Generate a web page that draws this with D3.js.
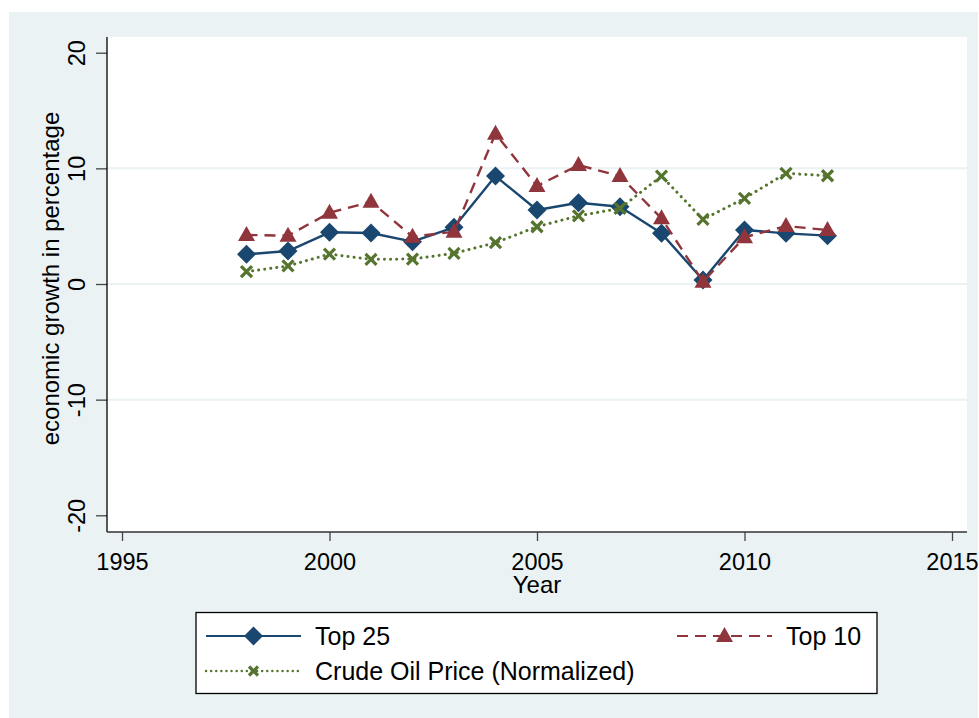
<!DOCTYPE html>
<html>
<head>
<meta charset="utf-8">
<script src="https://cdn.jsdelivr.net/npm/d3@7/dist/d3.min.js"></script>
<style>
  html, body { margin: 0; padding: 0; background: #ffffff; }
  svg { display: block; }
  text { font-family: "Liberation Sans", Arial, sans-serif; fill: #000; }
</style>
</head>
<body>
<svg id="chart" width="979" height="718"></svg>
<script>
// ---- Data ----
const years = [1998, 1999, 2000, 2001, 2002, 2003, 2004, 2005, 2006, 2007, 2008, 2009, 2010, 2011, 2012];
const top25 = [2.57, 2.85, 4.47, 4.41, 3.66, 4.90, 9.33, 6.40, 7.03, 6.68, 4.38, 0.35, 4.67, 4.38, 4.18];
const top10 = [4.24, 4.18, 6.16, 7.11, 4.09, 4.52, 13.0, 8.47, 10.28, 9.33, 5.68, 0.20, 4.04, 5.01, 4.67];
const oil   = [1.07, 1.56, 2.59, 2.13, 2.16, 2.65, 3.57, 4.95, 5.90, 6.54, 9.33, 5.59, 7.41, 9.57, 9.36];
const xTicks = [1995, 2000, 2005, 2010, 2015];
const yTicks = [-20, -10, 0, 10, 20];
const gridTicks = [-10, 0, 10];
const seriesNames = ["Top 25", "Top 10", "Crude Oil Price (Normalized)"];

const svg = d3.select("#chart");

// Outer (graph) background
svg.append("rect").attr("x", 9).attr("y", 12).attr("width", 969).attr("height", 706).attr("fill", "#eaf2f3");

const plot = {left: 107, right: 967, top: 37, bottom: 532};
svg.append("rect").attr("x", plot.left).attr("y", plot.top)
   .attr("width", plot.right - plot.left).attr("height", plot.bottom - plot.top).attr("fill", "#ffffff");

const x = d3.scaleLinear().domain([1995, 2015]).range([122, 952]);
const y = d3.scaleLinear().domain([-20, 20]).range([515.3, 52.7]);

// gridlines
svg.append("g").selectAll("line").data(gridTicks).join("line")
  .attr("x1", plot.left).attr("x2", plot.right)
  .attr("y1", d => y(d)).attr("y2", d => y(d))
  .attr("stroke", "#eaf2f3").attr("stroke-width", 2);

// Y axis
const yAxis = d3.axisLeft(y).tickValues(yTicks).tickSize(11).tickPadding(0).tickFormat(d => String(d));
const gy = svg.append("g").attr("transform", `translate(${plot.left},0)`).call(yAxis);
gy.select(".domain").remove();
gy.selectAll(".tick line").attr("stroke", "#444").attr("stroke-width", 1.3);
gy.selectAll(".tick text")
  .attr("x", 0)
  .attr("transform", "translate(-22,0) rotate(-90)")
  .attr("text-anchor", "middle")
  .attr("dy", "0")
  .style("font-size", "23.5px");
svg.append("line").attr("x1", plot.left).attr("x2", plot.left)
  .attr("y1", plot.top).attr("y2", plot.bottom).attr("stroke", "#000").attr("stroke-width", 1.3);

// X axis
const xAxis = d3.axisBottom(x).tickValues(xTicks).tickSize(9).tickPadding(0).tickFormat(d => String(d));
const gx = svg.append("g").attr("transform", `translate(0,${plot.bottom})`).call(xAxis);
gx.select(".domain").remove();
gx.selectAll(".tick line").attr("stroke", "#444").attr("stroke-width", 1.3);
gx.selectAll(".tick text").attr("y", 38).attr("dy", "0").style("font-size", "23.5px");
svg.append("line").attr("x1", plot.left).attr("x2", plot.right)
  .attr("y1", plot.bottom).attr("y2", plot.bottom).attr("stroke", "#333").attr("stroke-width", 1.3);
svg.selectAll("g").attr("font-family", null).attr("font-size", null);

// axis titles
svg.append("text").attr("x", x(2005)).attr("y", 593).attr("text-anchor", "middle")
  .style("font-size", "24px").text("Year");
svg.append("text").attr("transform", `translate(58.5,${(plot.top + plot.bottom) / 2 - 6}) rotate(-90)`)
  .attr("text-anchor", "middle").style("font-size", "24px").text("economic growth in percentage");

// markers
const diamond = (g, cx, cy) => g.append("path")
  .attr("d", `M${cx},${cy - 9.5}L${cx + 9.5},${cy}L${cx},${cy + 9.5}L${cx - 9.5},${cy}Z`).attr("fill", "#1a476f");
const triangle = (g, cx, cy) => g.append("path")
  .attr("d", `M${cx},${cy - 9}L${cx + 8.5},${cy + 6}L${cx - 8.5},${cy + 6}Z`).attr("fill", "#90353b");
const cross = (g, cx, cy, s = 5.5) => g.append("path")
  .attr("d", `M${cx - s},${cy - s}L${cx + s},${cy + s}M${cx - s},${cy + s}L${cx + s},${cy - s}`)
  .attr("stroke", "#55752f").attr("stroke-width", 3.2).attr("fill", "none");

const line = d3.line().x(d => x(d[0])).y(d => y(d[1]));
const zipY = vals => years.map((yr, i) => [yr, vals[i]]);

const series = [
  {vals: top25, color: "#1a476f", dash: null, width: 2.4, cap: "butt", marker: diamond},
  {vals: top10, color: "#90353b", dash: "11,7", width: 2.4, cap: "butt", marker: triangle},
  {vals: oil, color: "#55752f", dash: "0.1,6", width: 3, cap: "round", marker: cross}
];

series.forEach(s => {
  const g = svg.append("g");
  g.append("path").datum(zipY(s.vals)).attr("d", line)
    .attr("fill", "none").attr("stroke", s.color).attr("stroke-width", s.width)
    .attr("stroke-dasharray", s.dash).attr("stroke-linecap", s.cap).attr("stroke-linejoin", "round");
  zipY(s.vals).forEach(d => s.marker(g, x(d[0]), y(d[1])));
});

// Legend
const lg = svg.append("g");
lg.append("rect").attr("x", 196).attr("y", 612.5).attr("width", 681).attr("height", 81)
  .attr("fill", "#ffffff").attr("stroke", "#000").attr("stroke-width", 1.3);
const legendItems = [
  {name: seriesNames[0], s: series[0], x0: 206, x1: 301, tx: 315, y: 636},
  {name: seriesNames[1], s: series[1], x0: 677, x1: 772, tx: 786, y: 636},
  {name: seriesNames[2], s: series[2], x0: 206, x1: 301, tx: 315, y: 671}
];
legendItems.forEach(it => {
  lg.append("line").attr("x1", it.x0).attr("x2", it.x1).attr("y1", it.y).attr("y2", it.y)
    .attr("stroke", it.s.color).attr("stroke-width", it.s.marker === cross ? 2.4 : 2.2)
    .attr("stroke-dasharray", it.s.marker === cross ? "0.1,5" : it.s.dash)
    .attr("stroke-linecap", it.s.cap);
  const cx = (it.x0 + it.x1) / 2;
  if (it.s.marker === cross) cross(lg, cx, it.y, 4.5);
  else it.s.marker(lg, cx, it.y);
  lg.append("text").attr("x", it.tx).attr("y", it.y + 8.5).style("font-size", "25px").text(it.name);
});
</script>
</body>
</html>
